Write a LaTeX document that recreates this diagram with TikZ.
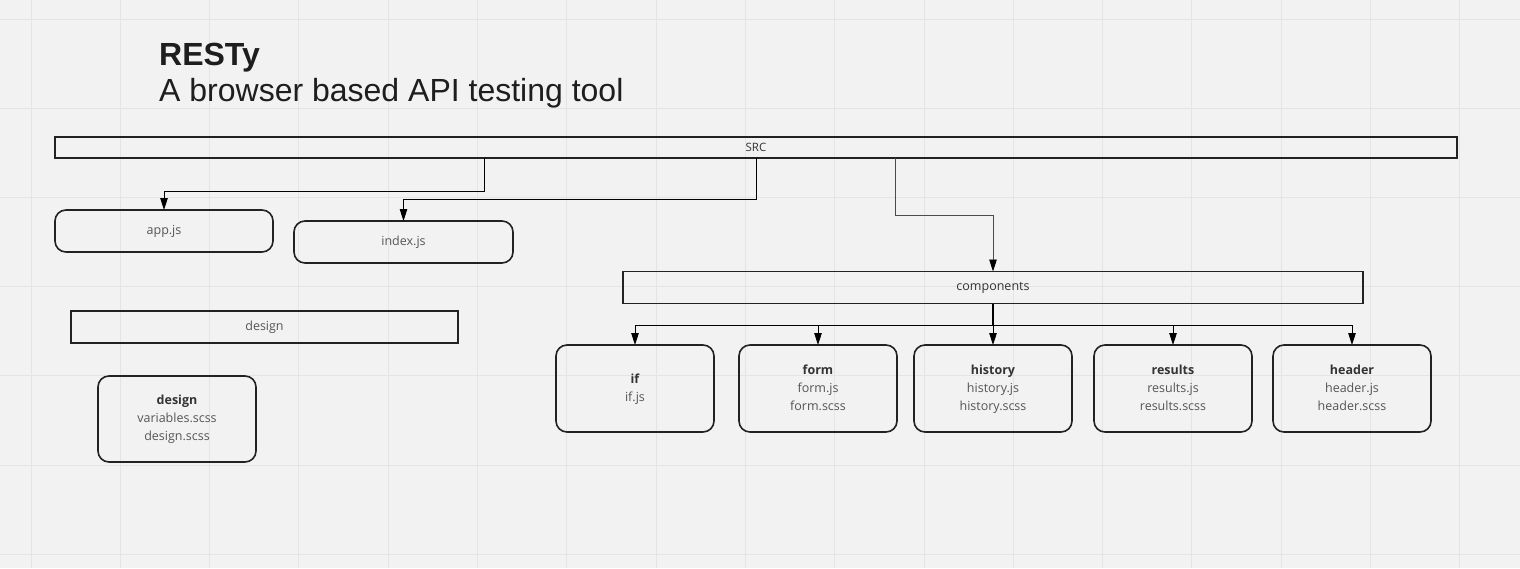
\documentclass[tikz,border=0pt]{standalone}
\usepackage{fontspec}
\setmainfont{Open Sans}
\newfontfamily\titlefont{Liberation Sans}
\usetikzlibrary{arrows.meta}
\definecolor{bg}{HTML}{F2F2F2}
\definecolor{gridc}{HTML}{E4E4E4}
\definecolor{edge}{HTML}{222222}
\definecolor{txt}{HTML}{555555}
\definecolor{hdr}{HTML}{333333}
\definecolor{ttl}{HTML}{1E1E1E}
\begin{document}
\begin{tikzpicture}[x=1pt,y=-1pt,
  box/.style={draw=edge, line width=1.6pt, inner sep=0pt, outer sep=0pt,
    font=\fontsize{12.5}{18}\selectfont, text=txt, align=center},
  rbox/.style={box, rounded corners=11pt},
  conn/.style={draw=black, line width=0.9pt, -{Triangle[length=12pt,width=7.5pt,color=black,fill=black]}},
  gridline/.style={draw=gridc, line width=1pt},
  ttlstyle/.style={anchor=base west, inner sep=0pt, text=ttl}
]
\useasboundingbox (0,0) rectangle (1520,568);
\fill[bg] (0,0) rectangle (1520,568);
\foreach \k in {0,...,16} {\draw[gridline] ({31+89.3*\k},0) -- ({31+89.3*\k},568);}
\foreach \k in {0,...,6} {\draw[gridline] (0,{19+89.2*\k}) -- (1520,{19+89.2*\k});}

\node[ttlstyle] (title) at (159,65) {\titlefont\fontsize{32}{38}\selectfont\bfseries RESTy};
\node[ttlstyle] (subtitle) at (159,101) {\titlefont\fontsize{32}{38}\selectfont A browser based API testing tool};

\node[box, minimum width=1402pt, minimum height=21pt, text=hdr, font=\fontsize{11.5}{14}\selectfont] (src) at (756,147.5) {SRC};
\node[rbox, minimum width=218pt, minimum height=42pt] (app) at (164,231) {app.js};
\node[rbox, minimum width=219pt, minimum height=42pt] (index) at (403.5,242) {index.js};
\node[box, minimum width=740pt, minimum height=32pt, text=hdr] (comp) at (993,287.5) {components};
\node[box, minimum width=387pt, minimum height=32pt] (designbar) at (264.5,327) {design};
\node[rbox, minimum width=158pt, minimum height=86pt] (design) at (177,419) {\strut{\color{hdr}\bfseries design}\\variables.scss\\design.scss\strut};

\node[rbox, minimum width=158pt, minimum height=87pt] (if) at (635,388.5) {\strut{\color{hdr}\bfseries if}\\if.js\strut};
\node[rbox, minimum width=158pt, minimum height=87pt] (form) at (818,388.5) {\strut{\color{hdr}\bfseries form}\\form.js\\form.scss\strut};
\node[rbox, minimum width=158pt, minimum height=87pt] (history) at (993,388.5) {\strut{\color{hdr}\bfseries history}\\history.js\\history.scss\strut};
\node[rbox, minimum width=158pt, minimum height=87pt] (results) at (1173,388.5) {\strut{\color{hdr}\bfseries results}\\results.js\\results.scss\strut};
\node[rbox, minimum width=158pt, minimum height=87pt] (header) at (1352,388.5) {\strut{\color{hdr}\bfseries header}\\header.js\\header.scss\strut};

\draw[conn] (src.south -| 484,0) -- (484,191) -| (app.north);
\draw[conn] (src.south) -- (756,199) -| (index.north);
\draw[conn, draw=black!70] (src.south -| 895,0) -- (895,215) -| (comp.north);

\coordinate (hub) at (993,325);
\draw[line width=1.8pt] (comp.south) -- (hub);
\draw[conn] (hub) -| (if.north);
\draw[conn] (hub) -| (form.north);
\draw[conn] (hub) -- (history.north);
\draw[conn] (hub) -| (results.north);
\draw[conn] (hub) -| (header.north);
\end{tikzpicture}
\end{document}
